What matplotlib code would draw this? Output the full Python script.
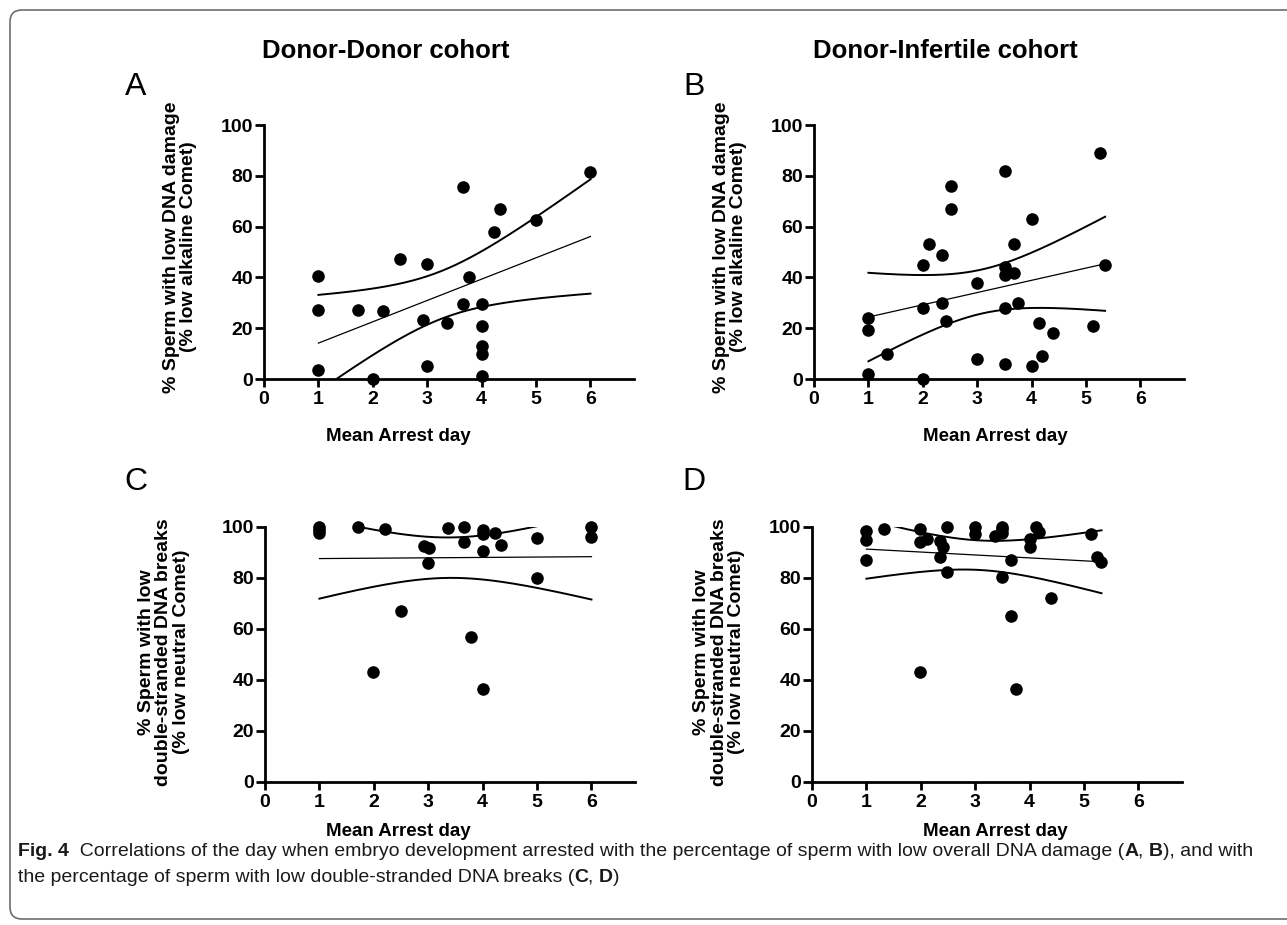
import numpy as np
import matplotlib
matplotlib.use("Agg")
import matplotlib.pyplot as plt
from matplotlib.patches import FancyBboxPatch
from matplotlib.transforms import IdentityTransform

plt.rcParams['font.family'] = ['Liberation Sans', 'DejaVu Sans']

# ---------------- data ----------------
a_x = [1, 1, 1, 1.72, 2.19, 2.0, 2.5, 3.0, 2.93, 3.0, 3.37, 3.66, 3.66, 3.77,
       4.0, 4.0, 4.0, 4.0, 4.0, 4.22, 4.33, 5.0, 6.0]
a_y = [40.6, 27.3, 3.4, 27.3, 26.6, 0.0, 47.2, 45.1, 23.1, 5.0, 22.0, 75.5, 29.6, 40.1,
       29.6, 21.0, 12.8, 10.0, 1.0, 57.9, 67.0, 62.6, 81.5]

b_x = [1.0, 1.0, 1.0, 1.34, 2.0, 2.0, 2.0, 2.12, 2.36, 2.36, 2.42, 2.51, 2.51, 3.0, 3.0,
       3.51, 3.51, 3.51, 3.51, 3.51, 3.67, 3.67, 3.75, 4.0, 4.0, 4.13, 4.19, 4.40,
       5.12, 5.26, 5.35]
b_y = [23.9, 19.1, 2.0, 9.9, 45.0, 28.0, 0.0, 53.0, 48.9, 30.0, 23.0, 75.9, 66.8, 37.9, 7.9,
       81.8, 44.1, 40.8, 28.0, 5.9, 53.0, 41.8, 30.0, 62.9, 5.0, 22.0, 8.9, 18.0,
       20.9, 88.8, 45.0]

c_x = [1, 1, 1, 1.71, 2.2, 1.99, 2.5, 2.92, 3.02, 3.0, 3.37, 3.66, 3.66, 3.78,
       4.0, 4.0, 4.0, 4.0, 4.22, 4.33, 5.0, 5.0, 6.0, 6.0]
c_y = [100, 98.8, 97.5, 100, 99.2, 43.1, 66.8, 92.4, 91.7, 85.8, 99.6, 100, 94.0, 56.7,
       99.0, 97.2, 90.7, 36.4, 97.6, 93.1, 95.5, 79.8, 100, 95.9]

d_x = [1.0, 1.0, 1.0, 1.33, 1.99, 1.99, 1.99, 2.11, 2.35, 2.40, 2.35, 2.49, 2.49, 3.0, 3.0,
       3.36, 3.50, 3.50, 3.50, 3.50, 3.66, 3.66, 3.75, 4.0, 4.0, 4.11, 4.17, 4.40,
       5.12, 5.24, 5.32]
d_y = [98.3, 95.0, 87.1, 99.2, 99.2, 94.1, 43.2, 95.1, 94.4, 92.1, 88.2, 100, 82.2, 100, 97.2,
       96.5, 100, 99.2, 97.8, 80.2, 87.1, 65.2, 36.2, 95.4, 92.1, 100, 98.0, 72.2,
       97.1, 88.2, 86.2]

# two-sided 95% t critical values by degrees of freedom
t_crit = {21: 2.080, 22: 2.074, 29: 2.045}

col_titles = ["Donor-Donor cohort", "Donor-Infertile cohort"]
panel_letters = ["A", "B", "C", "D"]
ylabel_top = "% Sperm with low DNA damage\n(% low alkaline Comet)"
ylabel_bot = "% Sperm with low\ndouble-stranded DNA breaks\n(% low neutral Comet)"
xlabel = "Mean Arrest day"
x_ticks = [0, 1, 2, 3, 4, 5, 6]
y_ticks = [0, 20, 40, 60, 80, 100]

# ---------------- figure ----------------
W, H = 1287, 925
fig = plt.figure(figsize=(W / 100, H / 100), dpi=100)


def fit_band(x, y):
    x = np.asarray(x, float)
    y = np.asarray(y, float)
    n = len(x)
    xb = x.mean()
    sxx = ((x - xb) ** 2).sum()
    b = ((x - xb) * (y - y.mean())).sum() / sxx
    a = y.mean() - b * xb
    s = np.sqrt(((y - (a + b * x)) ** 2).sum() / (n - 2))
    xs = np.linspace(x.min(), x.max(), 300)
    yh = a + b * xs
    se = s * np.sqrt(1.0 / n + (xs - xb) ** 2 / sxx)
    t = t_crit[n - 2]
    return xs, yh, yh - t * se, yh + t * se


def px_rect(l, r, top, bot):
    return [l / W, (H - bot) / H, (r - l) / W, (bot - top) / H]


rects = [px_rect(264, 634, 125, 379), px_rect(814, 1184, 125, 379),
         px_rect(265, 635, 527, 781.5), px_rect(812, 1182, 527, 781.5)]
datasets = [(a_x, a_y), (b_x, b_y), (c_x, c_y), (d_x, d_y)]

for i, (rect, (x, y)) in enumerate(zip(rects, datasets)):
    ax = fig.add_axes(rect)
    ax.set_xlim(0, 6.8)
    ax.set_ylim(0, 100)
    for sp in ("top", "right"):
        ax.spines[sp].set_visible(False)
    for sp in ("left", "bottom"):
        ax.spines[sp].set_linewidth(2.0)
    ax.set_xticks(x_ticks)
    ax.set_yticks(y_ticks)
    ax.tick_params(axis='x', length=6, width=2.0, labelsize=14, pad=3)
    ax.tick_params(axis='y', length=6.5, width=2.0, labelsize=14, pad=1.5)
    for lab in ax.get_xticklabels() + ax.get_yticklabels():
        lab.set_fontweight('bold')
    xs, yh, lo, hi = fit_band(x, y)
    ax.plot(xs, yh, color='black', lw=0.9)
    ax.plot(xs, lo, color='black', lw=1.4)
    ax.plot(xs, hi, color='black', lw=1.4)
    ax.scatter(x, y, s=82, color='black', clip_on=False, zorder=5, linewidths=0)

# x labels
for (px, py) in [(398, 436), (995, 436), (398, 832), (995, 832)]:
    fig.text(px / W, 1 - py / H, xlabel, ha='center', va='center',
             fontsize=13.5, fontweight='bold')

# y labels
fig.text(180 / W, 1 - 247 / H, ylabel_top, rotation=90, ha='center', va='center',
         fontsize=14, fontweight='bold', linespacing=1.05)
fig.text(730 / W, 1 - 247 / H, ylabel_top, rotation=90, ha='center', va='center',
         fontsize=14, fontweight='bold', linespacing=1.05)
fig.text(164 / W, 1 - 652 / H, ylabel_bot, rotation=90, ha='center', va='center',
         fontsize=14, fontweight='bold', linespacing=1.05)
fig.text(719 / W, 1 - 652 / H, ylabel_bot, rotation=90, ha='center', va='center',
         fontsize=14, fontweight='bold', linespacing=1.05)

# column titles
fig.text(386 / W, 1 - 51 / H, col_titles[0], ha='center', va='center',
         fontsize=18.5, fontweight='bold')
fig.text(945 / W, 1 - 51 / H, col_titles[1], ha='center', va='center',
         fontsize=18.5, fontweight='bold')

# panel letters
for letter, (px, py) in zip(panel_letters, [(136, 87), (694, 87), (136, 482), (694, 482)]):
    fig.text(px / W, 1 - py / H, letter, ha='center', va='center', fontsize=23)

# frame
frame = FancyBboxPatch((10, 6), 1320, 909, boxstyle="round,pad=0,rounding_size=12",
                       transform=IdentityTransform(), fill=False, edgecolor='#6e6e6e',
                       lw=1.2, figure=fig)
fig.patches.append(frame)

# caption with mixed weights
cap_family = ['Liberation Sans', 'DejaVu Sans']
line1 = [("Fig. 4", 'bold'),
         ("  Correlations of the day when embryo development arrested with the percentage "
          "of sperm with low overall DNA damage (", 'normal'),
         ("A", 'bold'), (", ", 'normal'), ("B", 'bold'), ("), and with", 'normal')]
line2 = [("the percentage of sperm with low double-stranded DNA breaks (", 'normal'),
         ("C", 'bold'), (", ", 'normal'), ("D", 'bold'), (")", 'normal')]

fig.canvas.draw()
renderer = fig.canvas.get_renderer()


def draw_segments(segs, x0, ycenter):
    x = x0
    for txt, wt in segs:
        t = fig.text(x / W, 1 - ycenter / H, txt, ha='left', va='center',
                     fontsize=14, fontweight=wt, family=cap_family, color='#1a1a1a')
        bb = t.get_window_extent(renderer=renderer)
        x += bb.width


draw_segments(line1, 18, 852)
draw_segments(line2, 18, 878)

fig.savefig("out.png", dpi=100)
